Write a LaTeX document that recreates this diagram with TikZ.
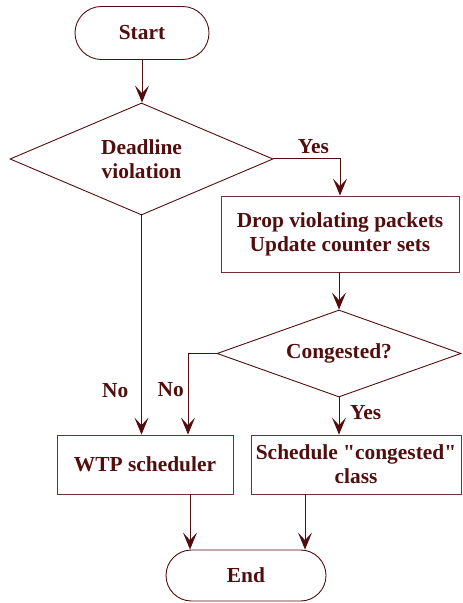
\documentclass[tikz,border=0pt]{standalone}
\usepackage{fontspec}
\setmainfont{Liberation Serif}
\usetikzlibrary{shapes.geometric, shapes.misc, arrows.meta}
\definecolor{flowRed}{RGB}{82,14,14}

\begin{document}
\begin{tikzpicture}[
    x=0.5pt, y=-0.5pt, every node/.style={font=\fontsize{10.7}{12}\selectfont\bfseries, text=flowRed},
    tNode/.style={rounded rectangle, draw=flowRed, line width=0.45pt, inner sep=0pt},
    dNode/.style={diamond, draw=flowRed, line width=0.45pt, inner sep=0pt, align=center},
    bNode/.style={rectangle, draw=flowRed!85, line width=0.4pt, inner sep=0pt, align=center},
    arr/.style={draw=flowRed, line width=0.5pt, -{Stealth[length=8.5pt, width=7pt, inset=3.8pt]}}
]
    \useasboundingbox (0,0) rectangle (462,603);

    \node[tNode, minimum width=67pt, minimum height=26.5pt] (start) at (142,33) {Start};
    \node[dNode, aspect=2.35, minimum width=131.5pt, minimum height=56pt] (dead) at (141.5,159) {Deadline\\violation};
    \node[bNode, minimum width=119pt, minimum height=38pt] (drop) at (340,234) {Drop violating packets\\Update counter sets};
    \node[dNode, aspect=2.8, minimum width=122pt, minimum height=43.5pt] (cong) at (339,353.5) {Congested?};
    \node[bNode, minimum width=88pt, minimum height=29.5pt] (wtp) at (145,464.5) {WTP scheduler};
    \node[bNode, minimum width=105pt, minimum height=29.5pt] (sched) at (356,464.5) {Schedule \textquotedbl congested\textquotedbl\\class};
    \node[tNode, minimum width=80pt, minimum height=25.5pt] (end) at (246,575.5) {End};

    \draw[arr] (start.south) -- (start.south |- dead.north);
    \draw[arr] (dead.east) -| (drop.north) node[pos=0.3, above, yshift=-1pt] {Yes};
    \draw[arr] (drop.south -| cong.north) -- (cong.north);
    \draw[arr] (dead.south) -- (dead.south |- wtp.north) node[pos=0.8, left, xshift=-3pt] {No};
    \draw[arr] (cong.west) -| ([xshift=21.5pt]wtp.north) node[pos=0.72, left, xshift=1.5pt] {No};
    \draw[arr] (cong.south) -- (cong.south |- sched.north) node[pos=0.4, right, xshift=2pt] {Yes};

    \draw[arr] ([xshift=22.5pt]wtp.south) -- ([xshift=22.5pt]wtp.south |- end.north);
    \draw[arr] ([xshift=-25.5pt]sched.south) -- ([xshift=-25.5pt]sched.south |- end.north);
\end{tikzpicture}
\end{document}
